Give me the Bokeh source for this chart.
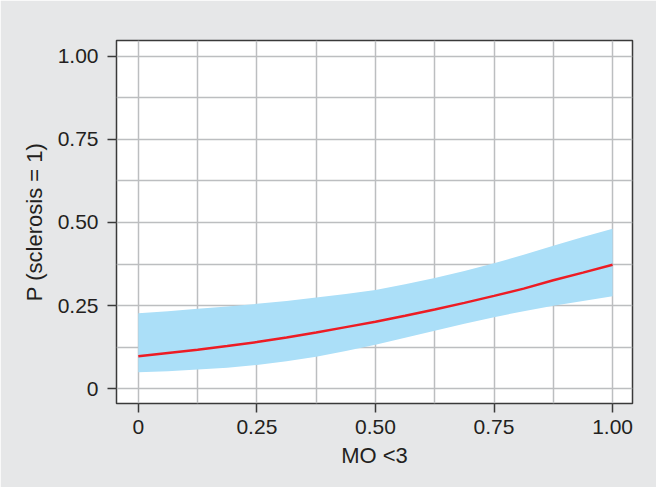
from bokeh.plotting import figure
from bokeh.models import FixedTicker, Range1d
from bokeh.embed import file_html
from bokeh.resources import INLINE

# ---- data ----
mo_lt3 = [0.0, 0.0625, 0.125, 0.1875, 0.25, 0.3125, 0.375, 0.4375, 0.5,
          0.5625, 0.625, 0.6875, 0.75, 0.8125, 0.875, 0.9375, 1.0]
p_fit = [0.097, 0.107, 0.117, 0.128, 0.140, 0.154, 0.169, 0.185, 0.201,
         0.219, 0.238, 0.258, 0.279, 0.301, 0.326, 0.349, 0.373]
p_upper = [0.227, 0.233, 0.240, 0.247, 0.255, 0.264, 0.274, 0.285, 0.297,
           0.314, 0.333, 0.354, 0.377, 0.403, 0.430, 0.456, 0.481]
p_lower = [0.049, 0.052, 0.057, 0.063, 0.071, 0.082, 0.096, 0.113, 0.132,
           0.153, 0.174, 0.195, 0.215, 0.233, 0.249, 0.264, 0.278]

tick_values = [0.0, 0.25, 0.5, 0.75, 1.0]
x_tick_labels = ["0", "0.25", "0.50", "0.75", "1.00"]
y_tick_labels = ["0", "0.25", "0.50", "0.75", "1.00"]
grid_values = [0.0, 0.125, 0.25, 0.375, 0.5, 0.625, 0.75, 0.875, 1.0]

x_title = "MO <3"
y_title = "P (sclerosis = 1)"

TEXT = "#231f20"
FONT = "Liberation Sans"

p = figure(width=656, height=487, output_backend="svg", toolbar_location=None,
           x_range=Range1d(-0.046, 1.042), y_range=Range1d(-0.045, 1.048),
           min_border_left=116, min_border_right=24, min_border_top=40,
           min_border_bottom=84)

p.background_fill_color = "white"
p.border_fill_color = "#e6e7e8"
p.outline_line_color = "#3a3a3a"
p.outline_line_width = 1.5

for g in (p.xgrid, p.ygrid):
    g.ticker = FixedTicker(ticks=grid_values)
    g.grid_line_color = "#bcbec0"
    g.grid_line_width = 1.5

p.varea(x=mo_lt3, y1=p_lower, y2=p_upper, fill_color="#abdff8", fill_alpha=1.0)
p.line(x=mo_lt3, y=p_fit, line_color="#ed1c24", line_width=2.5)

for ax in (p.xaxis[0], p.yaxis[0]):
    ax.ticker = FixedTicker(ticks=tick_values)
    ax.minor_tick_line_color = None
    ax.axis_line_color = None
    ax.major_tick_in = 0
    ax.major_tick_out = 9
    ax.major_tick_line_color = "#3a3a3a"
    ax.major_tick_line_width = 1.5
    ax.major_label_text_font = FONT
    ax.major_label_text_font_size = "21px"
    ax.major_label_text_color = TEXT
    ax.axis_label_text_font = FONT
    ax.axis_label_text_font_size = "22px"
    ax.axis_label_text_font_style = "normal"
    ax.axis_label_text_color = TEXT

p.xaxis[0].major_label_overrides = {v: s for v, s in zip(tick_values, x_tick_labels)}
p.yaxis[0].major_label_overrides = {v: s for v, s in zip(tick_values, y_tick_labels)}
p.xaxis[0].axis_label = x_title
p.yaxis[0].axis_label = y_title
p.xaxis[0].major_label_standoff = 7
p.yaxis[0].major_label_standoff = 9
p.xaxis[0].axis_label_standoff = 6
p.yaxis[0].axis_label_standoff = 8

open("out.html", "w").write(file_html(p, INLINE))
